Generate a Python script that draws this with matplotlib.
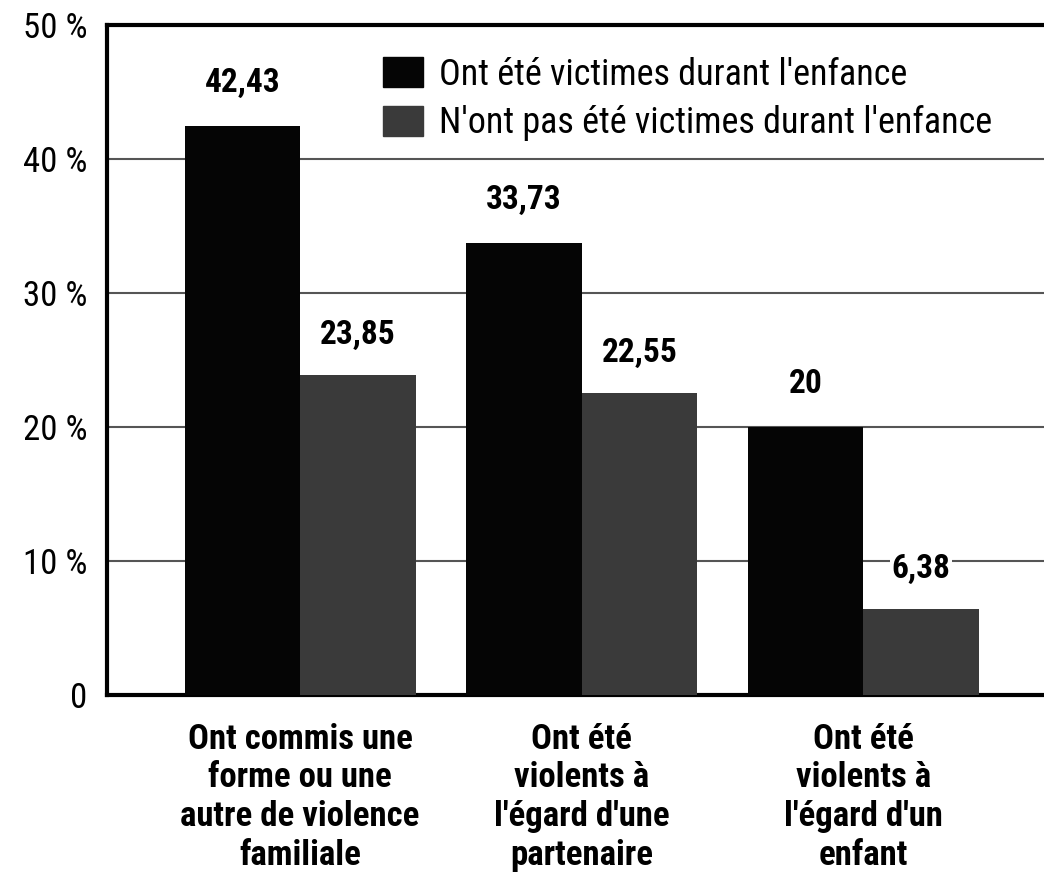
import matplotlib
matplotlib.use("Agg")
import matplotlib.pyplot as plt
import numpy as np
from matplotlib.patches import Patch

categories = ["Ont commis une\nforme ou une\nautre de violence\nfamiliale",
              "Ont été\nviolents à\nl'égard d'une\npartenaire",
              "Ont été\nviolents à\nl'égard d'un\nenfant"]
victimes = [42.43, 33.73, 20]
non_victimes = [23.85, 22.55, 6.38]
labels_v = ["42,43", "33,73", "20"]
labels_nv = ["23,85", "22,55", "6,38"]
series_names = ["Ont été victimes durant l'enfance",
                "N'ont pas été victimes durant l'enfance"]
yticks = [0, 10, 20, 30, 40, 50]
ytick_labels = ["0", "10 %", "20 %", "30 %", "40 %", "50 %"]

FONT = ["Liberation Sans Narrow", "Roboto Condensed", "DejaVu Sans"]
plt.rcParams['font.family'] = FONT

fig = plt.figure(figsize=(10.44, 8.86), dpi=100)
ax = fig.add_axes([0.1025, 0.2156, 0.93, 0.7562])

x = np.arange(len(categories))
w = 0.41
ax.bar(x - w/2, victimes, w, color="#050505", zorder=3)
ax.bar(x + w/2, non_victimes, w, color="#3a3a3a", zorder=3)

for xi, v, t in zip(x - w/2, victimes, labels_v):
    ax.annotate(t, (xi, v), xytext=(0, 31), textcoords="offset points",
                ha="center", va="center", fontsize=24, fontweight="bold", zorder=5)
for xi, v, t in zip(x + w/2, non_victimes, labels_nv):
    ax.annotate(t, (xi, v), xytext=(0, 29), textcoords="offset points",
                ha="center", va="center", fontsize=24, fontweight="bold", zorder=5,
                bbox=dict(facecolor="white", edgecolor="none", pad=1))

ax.set_ylim(0, 50)
ax.set_xlim(-0.686, 2.763)
ax.set_yticks(yticks)
ax.set_yticklabels(ytick_labels, fontsize=25)
ax.set_xticks(x)
ax.set_xticklabels(categories, fontsize=25, fontweight="bold", linespacing=1.22)
ax.tick_params(axis="x", length=0, pad=20)
ax.tick_params(axis="y", length=0, pad=14)
ax.yaxis.grid(True, color="#555555", linewidth=1.5, zorder=0)
ax.set_axisbelow(True)

for s in ["left", "bottom", "top"]:
    ax.spines[s].set_linewidth(3)
    ax.spines[s].set_color("black")
ax.spines["right"].set_visible(False)

handles = [Patch(color="#050505"), Patch(color="#3a3a3a")]
leg = ax.legend(handles, series_names, loc="upper left",
                bbox_to_anchor=(0.262, 0.985), frameon=False, fontsize=26,
                handlelength=1.1, handleheight=0.9, handletextpad=0.45,
                labelspacing=0.35, borderaxespad=0.2)

fig.savefig("out.png", dpi=100)
